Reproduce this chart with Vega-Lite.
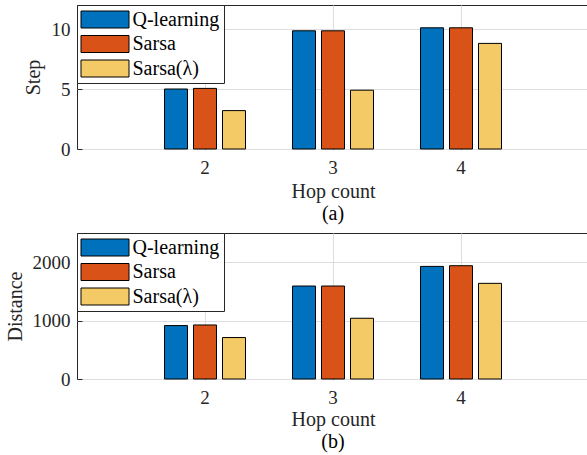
{
  "$schema": "https://vega.github.io/schema/vega-lite/v6.json",
  "padding": {"left": 4, "top": 4, "right": 0, "bottom": 0},
  "spacing": 7,
  "config": {
    "font": "Liberation Serif",
    "view": {"stroke": "#262626", "strokeWidth": 1},
    "axis": {
      "domain": false,
      "gridColor": "#dedede",
      "gridWidth": 1,
      "tickColor": "#262626",
      "tickSize": -5,
      "labelFont": "Liberation Serif",
      "labelFontSize": 19,
      "labelColor": "#262626",
      "titleFont": "Liberation Serif",
      "titleFontSize": 20,
      "titleFontWeight": "normal",
      "titleColor": "#262626"
    },
    "legend": {
      "orient": "top-left",
      "offset": 0,
      "title": null,
      "labelFont": "Liberation Serif",
      "labelFontSize": 20,
      "labelColor": "#000000",
      "symbolType": "M-2.4,-0.85H2.4V0.85H-2.4Z",
      "symbolSize": 400,
      "symbolOffset": 13.5,
      "symbolStrokeColor": "#000000",
      "symbolStrokeWidth": 1,
      "symbolOpacity": 1,
      "labelOffset": 17,
      "padding": 4,
      "rowPadding": 3.5,
      "strokeColor": "#262626",
      "fillColor": "#ffffff"
    },
    "title": {"font": "Liberation Serif", "fontSize": 20, "fontWeight": "normal", "color": "#000000"}
  },
  "datasets": {
    "step": [
      {"hop": "2", "method": "Q-learning", "value": 5.0},
      {"hop": "3", "method": "Q-learning", "value": 9.85},
      {"hop": "4", "method": "Q-learning", "value": 10.1},
      {"hop": "2", "method": "Sarsa", "value": 5.05},
      {"hop": "3", "method": "Sarsa", "value": 9.85},
      {"hop": "4", "method": "Sarsa", "value": 10.1},
      {"hop": "2", "method": "Sarsa(λ)", "value": 3.2},
      {"hop": "3", "method": "Sarsa(λ)", "value": 4.9},
      {"hop": "4", "method": "Sarsa(λ)", "value": 8.8}
    ],
    "dist": [
      {"hop": "2", "method": "Q-learning", "value": 915},
      {"hop": "3", "method": "Q-learning", "value": 1592},
      {"hop": "4", "method": "Q-learning", "value": 1928},
      {"hop": "2", "method": "Sarsa", "value": 925},
      {"hop": "3", "method": "Sarsa", "value": 1592},
      {"hop": "4", "method": "Sarsa", "value": 1940},
      {"hop": "2", "method": "Sarsa(λ)", "value": 710},
      {"hop": "3", "method": "Sarsa(λ)", "value": 1040},
      {"hop": "4", "method": "Sarsa(λ)", "value": 1638}
    ]
  },
  "resolve": {"legend": {"color": "independent"}},
  "vconcat": [
    {
      "width": 512,
      "height": 144,
      "data": {"name": "step"},
      "title": {"text": "(a)", "orient": "bottom", "offset": 3},
      "mark": {"type": "bar", "stroke": "#000000", "strokeWidth": 1},
      "encoding": {
        "x": {
          "field": "hop", "type": "nominal",
          "scale": {"domain": ["2", "3", "4"], "paddingInner": 0.367, "paddingOuter": 0.6835},
          "axis": {"title": "Hop count", "labelAngle": 0, "grid": true, "bandPosition": 0.5, "labelPadding": 14, "titlePadding": 4}
        },
        "xOffset": {
          "field": "method", "type": "nominal",
          "scale": {"domain": ["Q-learning", "Sarsa", "Sarsa(λ)"], "paddingInner": 0.207, "paddingOuter": 0}
        },
        "y": {
          "field": "value", "type": "quantitative",
          "scale": {"domain": [0, 12], "nice": false},
          "axis": {"title": "Step", "values": [0, 5, 10], "format": "d", "grid": true, "labelPadding": 12, "titlePadding": 8}
        },
        "color": {
          "field": "method", "type": "nominal",
          "scale": {"domain": ["Q-learning", "Sarsa", "Sarsa(λ)"], "range": ["#0072BD", "#D95319", "#F4CA66"]}
        }
      }
    },
    {
      "width": 512,
      "height": 146,
      "data": {"name": "dist"},
      "title": {"text": "(b)", "orient": "bottom", "offset": 3},
      "mark": {"type": "bar", "stroke": "#000000", "strokeWidth": 1},
      "encoding": {
        "x": {
          "field": "hop", "type": "nominal",
          "scale": {"domain": ["2", "3", "4"], "paddingInner": 0.367, "paddingOuter": 0.6835},
          "axis": {"title": "Hop count", "labelAngle": 0, "grid": true, "bandPosition": 0.5, "labelPadding": 14, "titlePadding": 2}
        },
        "xOffset": {
          "field": "method", "type": "nominal",
          "scale": {"domain": ["Q-learning", "Sarsa", "Sarsa(λ)"], "paddingInner": 0.207, "paddingOuter": 0}
        },
        "y": {
          "field": "value", "type": "quantitative",
          "scale": {"domain": [0, 2500], "nice": false},
          "axis": {"title": "Distance", "values": [0, 1000, 2000], "format": "d", "grid": true, "labelPadding": 12, "titlePadding": 7}
        },
        "color": {
          "field": "method", "type": "nominal",
          "scale": {"domain": ["Q-learning", "Sarsa", "Sarsa(λ)"], "range": ["#0072BD", "#D95319", "#F4CA66"]}
        }
      }
    }
  ]
}
